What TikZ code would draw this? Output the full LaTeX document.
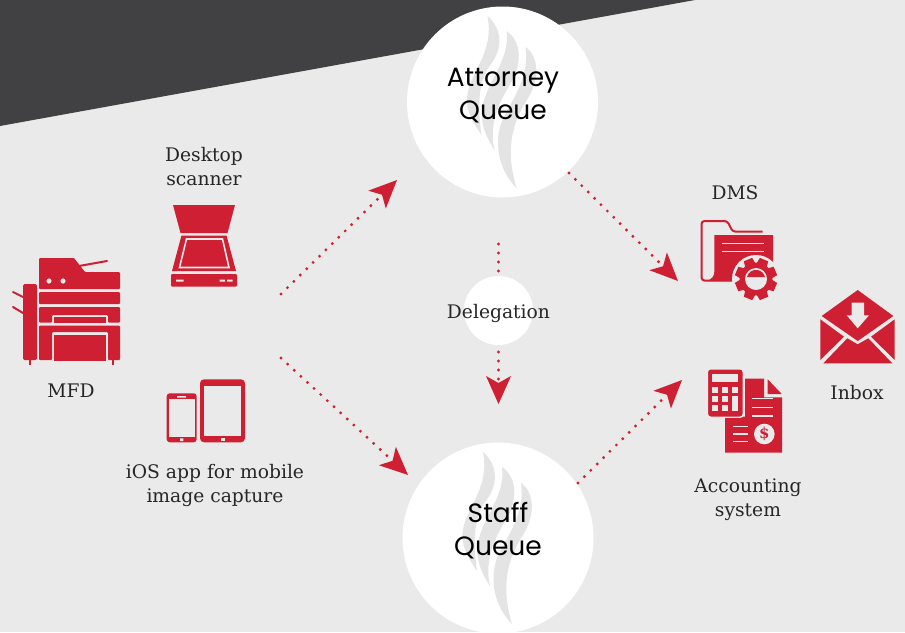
\documentclass[tikz,border=0pt]{standalone}
\usepackage{fontspec}
\setmainfont{DejaVu Serif}
\newfontfamily\queuefont{Poppins}
\usepackage{xcolor}
\usetikzlibrary{arrows.meta, positioning}
\definecolor{pagegray}{HTML}{EAEAEA}
\definecolor{darkband}{HTML}{414042}
\definecolor{iconred}{HTML}{CE1F33}
\definecolor{flamegray}{HTML}{E4E4E4}
\begin{document}
\begin{tikzpicture}[x=1pt,y=-1pt,
    queue/.style={circle,fill=white,minimum size=191pt,inner sep=0pt},
    queuetext/.style={align=center,font=\queuefont\fontsize{26.5}{32.5}\selectfont,text=black},
    caption/.style={align=center,font=\fontsize{18.7}{24}\selectfont,text=black!85},
    dots/.style={iconred,line width=3.2pt,line cap=round,dash pattern=on 0pt off 9pt},
    flow/.style={dots,-{Stealth[length=28pt,width=25pt,inset=7pt,line width=0pt]}},
    flame/.pic={
      \fill[flamegray] (-15,-86) .. controls (1,-72) and (0,-52) .. (-13,-36)
        .. controls (-20,-26) and (-27,-8) .. (-21,33)
        .. controls (-30,20) and (-38,6) .. (-35,-8)
        .. controls (-32,-30) and (-8,-50) .. (-15,-86) -- cycle;
      \fill[flamegray] (4,-71) .. controls (20,-60) and (20,-36) .. (6,-15)
        .. controls (-3,0) and (-14,22) .. (-8,48)
        .. controls (-17,34) and (-23,20) .. (-20,5)
        .. controls (-16,-20) and (8,-42) .. (4,-71) -- cycle;
      \fill[flamegray] (23,-55) .. controls (36,-46) and (38,-24) .. (25,-3)
        .. controls (15,13) and (0,40) .. (14,86)
        .. controls (0,72) and (-8,50) .. (-3,27)
        .. controls (2,5) and (28,-18) .. (23,-55) -- cycle;
    }]
  \useasboundingbox (0,0) rectangle (905,632);
  \fill[pagegray] (0,0) rectangle (905,632);
  \fill[darkband] (0,0) -- (695,0) -- (0,126) -- cycle;

  % queues
  \node[queue] (attorney) at (502.5,102) {};
  \node[queue] (staff) at (498,538) {};
  \pic at (attorney) {flame};
  \pic at (staff) {flame};
  \node[queuetext] (attorneytext) at (503,95.5) {Attorney\\Queue};
  \node[queuetext] (stafftext) at (498,530.5) {Staff\\Queue};
  \node[circle,fill=white,minimum size=69pt,inner sep=0pt] (delegcircle) at (498.5,310.5) {};
  \node[caption] (delegation) at (498.5,313) {Delegation};

  % connectors
  \coordinate (capture1) at (281,294);
  \coordinate (capture2) at (281,358);
  \coordinate (attorneyin) at (397,180);
  \coordinate (staffin) at (408,475);
  \coordinate (attorneyout) at (569,173);
  \coordinate (staffout) at (578,483);
  \coordinate (dmsin) at (678,281);
  \coordinate (acctin) at (682,380);
  \coordinate (delegtop) at (498.5,244);
  \coordinate (delegtopend) at (498.5,273);
  \coordinate (delegbottom) at (498.5,352);
  \coordinate (delegend) at (498.5,404);
  \draw[flow] (capture1) -- (attorneyin);
  \draw[flow] (capture2) -- (staffin);
  \draw[flow] (attorneyout) -- (dmsin);
  \draw[flow] (staffout) -- (acctin);
  \draw[dots] (delegtop) -- (delegtopend);
  \draw[flow] (delegbottom) -- (delegend);

  % MFD
  \fill[iconred,rounded corners=1pt] (39,258) -- (74,258) -- (85,272) -- (120,272) -- (120,289) -- (39,289) -- cycle;
  \draw[iconred,line width=2pt,line cap=round] (79,266) -- (107,261);
  \fill[pagegray] (49,281) circle (2.6) (63,281) circle (2.6);
  \fill[iconred,rounded corners=1pt] (39,292) rectangle (120,304);
  \fill[iconred,rounded corners=1pt] (39,307) -- (120,307) -- (120,322.5) -- (108,322.5) -- (108,315) -- (52,315) -- (52,322.5) -- (39,322.5) -- cycle;
  \fill[iconred] (54,317) rectangle (105.5,322.5);
  \fill[iconred,rounded corners=1pt] (39,325.5) -- (120,325.5) -- (120,360) -- (108,360) -- (108,332) -- (52,332) -- (52,360) -- (39,360) -- cycle;
  \fill[iconred] (54,334.5) rectangle (105.5,361);
  \fill[iconred,rounded corners=1.5pt] (23,284) rectangle (37,360);
  \draw[iconred,line width=2pt] (30,360) -- (30,365) (113,360) -- (113,365);
  \draw[iconred,line width=2pt,line cap=round] (13,292) -- (23,297) (13,307) -- (23,313);
  \node[caption] (mfd) at (71,391) {MFD};

  % scanner
  \fill[iconred] (173,205) -- (235,205) -- (227.5,233) -- (180.5,233) -- cycle;
  \fill[iconred] (181.5,235.5) -- (226.5,235.5) -- (236,271) -- (172,271) -- cycle;
  \draw[pagegray,line width=1.6pt] (186.5,239) -- (222.5,239) -- (229,267.5) -- (179.5,267.5) -- cycle;
  \fill[iconred,rounded corners=1pt] (171,274) rectangle (237,286.5);
  \fill[pagegray] (176,279.5) rectangle (183.5,281.5) (219.5,279.5) rectangle (225,281.5) (227,279.5) rectangle (232.5,281.5);
  \node[caption] (scanner) at (204,167) {Desktop\\scanner};

  % tablet and phone
  \fill[iconred,rounded corners=3pt] (166.7,393.3) rectangle (196.7,442.3);
  \fill[pagegray] (168.7,399) rectangle (195,437);
  \fill[pagegray] (177,396) rectangle (186,397.7) (180,438.3) rectangle (183.3,441);
  \fill[iconred,rounded corners=4pt] (200,379.3) rectangle (245,442.3);
  \fill[pagegray] (204.3,385.7) rectangle (241.3,436);
  \fill[pagegray] (220.7,437.7) rectangle (224.7,441);
  \node[caption] (ios) at (215,485) {iOS app for mobile\\image capture};

  % DMS
  \draw[iconred,line width=2pt,rounded corners=3pt] (762.7,231.7) -- (732.7,231.7) -- (727.3,221) -- (701.5,221) -- (701.5,280.5) -- (745,280.5);
  \fill[iconred] (714.3,235) -- (773,235) -- (773,270) -- (745,281) -- (707,281) .. controls (712,279) and (714.3,276) .. (714.3,272) -- cycle;
  \draw[pagegray,line width=1.6pt] (721.7,243.3) -- (764,243.3) (721.7,251.3) -- (764,251.3);
  \fill[pagegray] (756,279) circle (24);
  \foreach \a in {0,45,...,315}
    \fill[iconred,rotate around={\a+22.5:(756,279)}] (751.5,258) -- (760.5,258) -- (762,268) -- (750,268) -- cycle;
  \fill[iconred] (756,279) circle (16.5);
  \fill[pagegray] (756,279) circle (11);
  \fill[iconred] (747,277) arc (193:347:9.2) -- cycle;
  \node[caption] (dms) at (735,193) {DMS};

  % accounting
  \fill[iconred] (745,378.7) -- (764,378.7) -- (764,397.3) -- (782,397.3) -- (782,452.7) -- (725,452.7) -- (725,416.7) -- (745,416.7) -- cycle;
  \fill[iconred] (767.7,379.3) -- (781.7,394) -- (767.7,394) -- cycle;
  \draw[pagegray,line width=1.4pt] (751.7,398.7) -- (772.7,398.7) (751.7,407.3) -- (772.7,407.3) (751.7,416) -- (772.7,416);
  \draw[pagegray,line width=1.4pt] (732.7,426.7) -- (748.3,426.7) (732.7,434) -- (748.3,434) (732.7,441.3) -- (748.3,441.3);
  \node[circle,fill=pagegray,minimum size=20.6pt,inner sep=0pt,text=iconred,font=\bfseries\fontsize{15}{15}\selectfont] (dollar) at (764.3,434) {\$};
  \fill[iconred,draw=pagegray,line width=1.4pt,rounded corners=3pt] (707.5,368.8) rectangle (743.2,417.2);
  \fill[pagegray] (712.3,374.3) rectangle (737.7,381.7);
  \foreach \x in {712.3,722,731.7}
    \foreach \y in {386.7,396,405.3}
      \fill[pagegray] (\x,\y) rectangle +(6,6);
  \fill[pagegray] (731.7,396) rectangle (737.7,411.3);
  \node[caption] (accounting) at (748,499.5) {Accounting\\system};

  % inbox
  \fill[iconred] (821.7,316) -- (857.7,290) -- (893.3,316) -- (857.7,341) -- cycle;
  \fill[iconred] (820.3,319.3) -- (844,336.7) -- (820.3,360) -- cycle;
  \fill[iconred] (894.7,319.3) -- (871,336.7) -- (894.7,360) -- cycle;
  \fill[iconred] (823.3,363.3) -- (847.3,338.3) -- (857.7,344.3) -- (868.3,338.3) -- (892.3,363.3) -- cycle;
  \fill[pagegray] (851.7,302.7) -- (864,302.7) -- (864,315.3) -- (869,315.3) -- (857.7,328.3) -- (846.7,315.3) -- (851.7,315.3) -- cycle;
  \node[caption] (inbox) at (857,393) {Inbox};
\end{tikzpicture}
\end{document}
